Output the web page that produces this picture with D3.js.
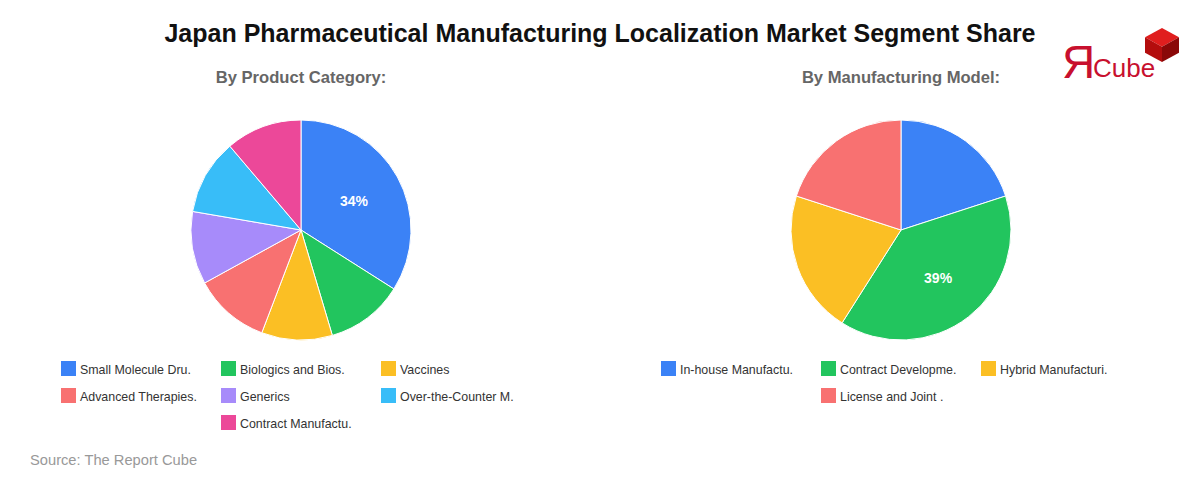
<!DOCTYPE html>
<html>
<head>
<meta charset="utf-8">
<script src="https://cdn.jsdelivr.net/npm/d3@7"></script>
<style>
  html, body { margin: 0; padding: 0; background: #fff; }
  svg { display: block; font-family: "Liberation Sans", Arial, sans-serif; }
</style>
</head>
<body>
<svg id="chart" width="1200" height="480"></svg>
<script>
const chartTitle = "Japan Pharmaceutical Manufacturing Localization Market Segment Share";
const sourceText = "Source: The Report Cube";

const productTitle = "By Product Category:";
const productCategories = ["Small Molecule Dru.", "Biologics and Bios.", "Vaccines", "Advanced Therapies.", "Generics", "Over-the-Counter M.", "Contract Manufactu."];
const productValues = [34, 11.4, 10.4, 11.2, 10.7, 11.1, 11.2];

const modelTitle = "By Manufacturing Model:";
const modelCategories = ["In-house Manufactu.", "Contract Developme.", "Hybrid Manufacturi.", "License and Joint ."];
const modelValues = [20, 39, 21, 20];

const productColors = ["#3b82f6", "#22c55e", "#fbbf24", "#f87171", "#a78bfa", "#38bdf8", "#ec4899"];
const modelColors = ["#3b82f6", "#22c55e", "#fbbf24", "#f87171"];

const svg = d3.select("#chart");

svg.append("text")
  .attr("x", 600).attr("y", 42)
  .attr("text-anchor", "middle")
  .attr("font-size", 25).attr("font-weight", "bold").attr("fill", "#111")
  .text(chartTitle);

svg.append("text")
  .attr("x", 30).attr("y", 465)
  .attr("font-size", 14.7).attr("fill", "#999")
  .text(sourceText);

// Logo
const logo = svg.append("g");
logo.append("text").attr("x", 1062).attr("y", 78).attr("font-size", 46)
  .attr("fill", "#c8102e").text("Я");
logo.append("text").attr("x", 1093).attr("y", 77).attr("font-size", 26)
  .attr("fill", "#c8102e").text("Cube");
const cx = 1162, cy = 45, s = 17;
const h = s * 0.55;
logo.append("polygon").attr("points", [[cx, cy - s], [cx + s, cy - s + h], [cx, cy - s + 2 * h], [cx - s, cy - s + h]].map(p => p.join(",")).join(" ")).attr("fill", "#e01e1e");
logo.append("polygon").attr("points", [[cx - s, cy - s + h], [cx, cy - s + 2 * h], [cx, cy + s], [cx - s, cy + s - h]].map(p => p.join(",")).join(" ")).attr("fill", "#b30d0d");
logo.append("polygon").attr("points", [[cx + s, cy - s + h], [cx, cy - s + 2 * h], [cx, cy + s], [cx + s, cy + s - h]].map(p => p.join(",")).join(" ")).attr("fill", "#8a0808");

function drawPie(centerX, title, cats, vals, colors) {
  const g = svg.append("g");
  g.append("text").attr("x", centerX).attr("y", 83)
    .attr("text-anchor", "middle").attr("font-size", 16.6).attr("font-weight", "bold")
    .attr("fill", "#666").text(title);

  const radius = 110;
  const pg = g.append("g").attr("transform", `translate(${centerX},230)`);
  const pie = d3.pie().sort(null).value(d => d)(vals);
  const arc = d3.arc().innerRadius(0).outerRadius(radius);
  const labelArc = d3.arc().innerRadius(radius * 0.55).outerRadius(radius * 0.55);
  const total = d3.sum(vals);
  const maxV = d3.max(vals);

  pg.selectAll("path").data(pie).join("path")
    .attr("d", arc)
    .attr("fill", (d, i) => colors[i])
    .attr("stroke", "#fff").attr("stroke-width", 1);

  pg.selectAll("text.lbl").data(pie.filter(d => d.value === maxV)).join("text")
    .attr("class", "lbl")
    .attr("transform", d => `translate(${labelArc.centroid(d)})`)
    .attr("text-anchor", "middle").attr("dy", "0.35em")
    .attr("font-size", 14).attr("font-weight", "bold").attr("fill", "#fff")
    .text(d => Math.round(d.value / total * 100) + "%");

  const cols = 3, colW = 160, rowH = 27;
  const startX = centerX - cols * colW / 2;
  const nRows = Math.ceil(cats.length / cols);
  const lg = g.append("g");
  cats.forEach((c, i) => {
    const row = Math.floor(i / cols);
    const inRow = row < nRows - 1 ? cols : cats.length - row * cols;
    const offset = (cols - inRow) * colW / 2;
    const col = i % cols;
    const x = startX + offset + col * colW;
    const y = 361 + row * rowH;
    lg.append("rect").attr("x", x).attr("y", y).attr("width", 15).attr("height", 15).attr("fill", colors[i]);
    lg.append("text").attr("x", x + 19).attr("y", y + 12.5)
      .attr("font-size", 12.4).attr("fill", "#333").text(c);
  });
}

drawPie(301, productTitle, productCategories, productValues, productColors);
drawPie(901, modelTitle, modelCategories, modelValues, modelColors);
</script>
</body>
</html>
